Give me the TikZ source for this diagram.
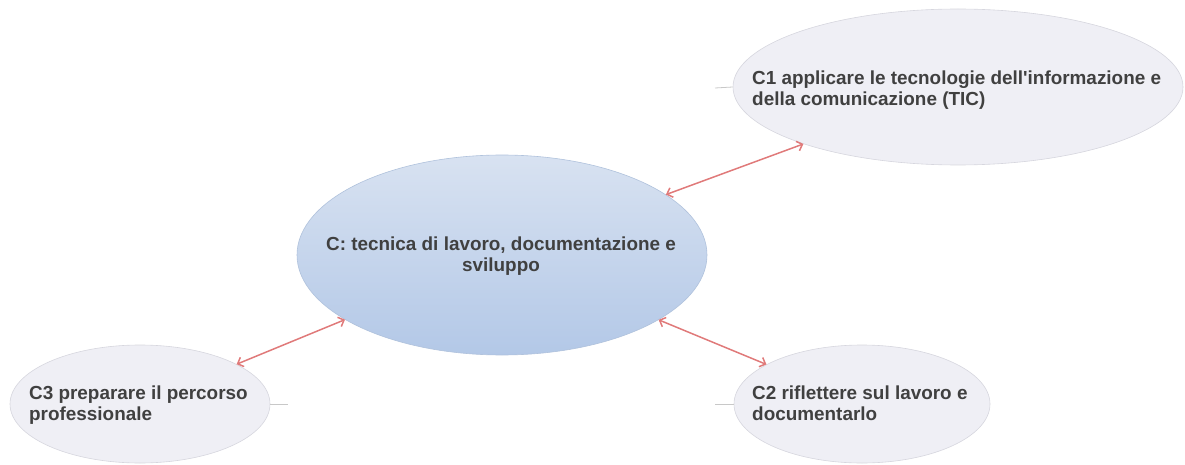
\documentclass[tikz,border=0pt]{standalone}
\usepackage{fontspec}
\setmainfont{Liberation Sans}[Ligatures=TeXOff]
\usetikzlibrary{shapes.geometric,arrows.meta}
\definecolor{txt}{HTML}{404040}
\definecolor{satfill}{HTML}{EFEFF5}
\definecolor{satdraw}{HTML}{D6D6DE}
\definecolor{ctop}{HTML}{D8E2F1}
\definecolor{cbot}{HTML}{B3C8E7}
\definecolor{cdraw}{HTML}{B0C2DC}
\definecolor{arr}{HTML}{E07A7A}
\definecolor{stub}{HTML}{C8C8C8}
\tikzset{
  sat/.style={ellipse, draw=satdraw, fill=satfill, line width=0.6pt, inner sep=0pt},
  central/.style={ellipse, draw=cdraw, line width=0.6pt, top color=ctop, bottom color=cbot, inner sep=0pt},
  sattext/.style={font=\fontsize{18.9}{21}\selectfont\bfseries, text=txt, align=left, inner sep=0pt, anchor=west},
  ctext/.style={font=\fontsize{18.9}{21}\selectfont\bfseries, text=txt, align=center, inner sep=0pt},
  link/.style={draw=arr, line width=1.5pt, {Straight Barb[length=5pt,width=10pt]}-{Straight Barb[length=5pt,width=10pt]}},
  stubline/.style={draw=stub, line width=0.8pt}
}
\begin{document}
\begin{tikzpicture}[x=1pt,y=-1pt]
\useasboundingbox (0,0) rectangle (1185,465);
\node[central, minimum width=410pt, minimum height=200pt] (c) at (502,255) {};
\node[sat, minimum width=450pt, minimum height=156pt] (c1) at (958,87) {};
\node[sat, minimum width=256pt, minimum height=118pt] (c2) at (862,404) {};
\node[sat, minimum width=260pt, minimum height=118pt] (c3) at (140,404) {};
\node[ctext] (ct) at (501,256.5) {C: tecnica di lavoro, documentazione e\\sviluppo};
\node[sattext] (c1t) at (752,90.5) {C1 applicare le tecnologie dell'informazione e\\della comunicazione (TIC)};
\node[sattext] (c2t) at (752,403.5) {C2 riflettere sul lavoro e\\documentarlo};
\node[sattext] (c3t) at (29,405.5) {C3 preparare il percorso\\professionale};
\coordinate (s1) at (715,88);
\coordinate (s2) at (715,404);
\coordinate (s3) at (288,404);
\draw[stubline] (s1) -- (c1.west);
\draw[stubline] (s2) -- (c2.west);
\draw[stubline] (c3.east) -- (s3);
\draw[link] (c) -- (c1);
\draw[link] (c) -- (c2);
\draw[link] (c) -- (c3);
\end{tikzpicture}
\end{document}
